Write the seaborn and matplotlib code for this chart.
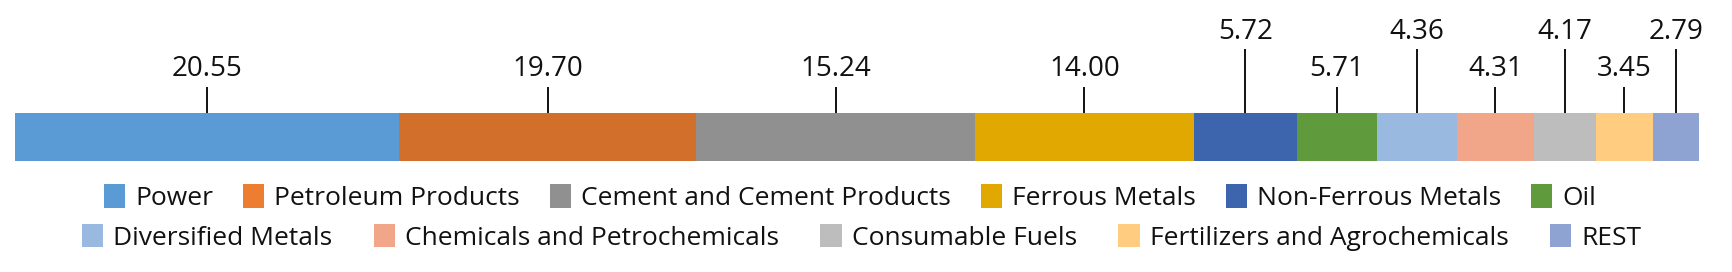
import matplotlib
matplotlib.use("Agg")
import numpy as np
import pandas as pd
import seaborn as sns
import matplotlib.pyplot as plt
from matplotlib.patches import Patch
import matplotlib.transforms as mtransforms

# ---------------- data ----------------
categories = ["Power", "Petroleum Products", "Cement and Cement Products", "Ferrous Metals",
              "Non-Ferrous Metals", "Oil", "Diversified Metals", "Chemicals and Petrochemicals",
              "Consumable Fuels", "Fertilizers and Agrochemicals", "REST"]
# segment widths as drawn in the bar (share of total, %)
segment_share = [22.84, 17.62, 16.57, 12.99, 6.13, 4.75, 4.73, 4.59, 3.68, 3.37, 2.73]
# printed callout values
label_values = [20.55, 19.70, 15.24, 14.00, 5.72, 5.71, 4.36, 4.31, 4.17, 3.45, 2.79]
label_raised = [False, False, False, False, True, False, True, False, True, False, True]
bar_colors = ["#5B9BD5", "#D16F2B", "#909090", "#E0A800", "#3D65AE", "#5F9B3C",
              "#99B9E0", "#F1A68A", "#BDBDBD", "#FFCC80", "#8FA3D3"]
legend_colors = ["#5B9BD5", "#ED7D31", "#909090", "#E0A800", "#3D65AE", "#5F9B3C",
                 "#99B9E0", "#F1A68A", "#BDBDBD", "#FFCC80", "#8FA3D3"]
legend_row_sizes = [6, 5]

# ---------------- style ----------------
sns.set_theme(style="white")
plt.rcParams["font.family"] = ["Open Sans", "DejaVu Sans"]
plt.rcParams["text.color"] = "#111111"

df = pd.DataFrame({"category": categories, "share": segment_share, "value": label_values})
df["right"] = df["share"].cumsum()
df["left"] = df["right"] - df["share"]
df["center"] = (df["left"] + df["right"]) / 2
df["row"] = "all"

W, H = 1733, 272
fig = plt.figure(figsize=(W / 100, H / 100), dpi=100)
ax = fig.add_axes([14.7 / W, 111 / H, 1684 / W, 48 / H])

# stacked bar: draw cumulative totals from the longest to the shortest
for i in reversed(range(len(df))):
    sns.barplot(data=df.iloc[[i]], x="right", y="row", orient="h", color=bar_colors[i],
                saturation=1, width=1.0, linewidth=0, errorbar=None, ax=ax)

ax.set_xlim(0, df["right"].iloc[-1])
ax.set_ylim(0.5, -0.5)
ax.set_axis_off()

trans = mtransforms.blended_transform_factory(ax.transData, ax.transAxes)
for idx, r in df.iterrows():
    raised = label_raised[idx]
    top = 2.333 if raised else 1.542
    base = 2.542 if raised else 1.771
    ax.plot([r["center"], r["center"]], [1.0, top], transform=trans, color="#111111",
            lw=1.4, clip_on=False, solid_capstyle="butt")
    ax.text(r["center"], base, f"{r['value']:.2f}", transform=trans, ha="center",
            va="baseline", fontsize=20, clip_on=False)

handles = [Patch(facecolor=c, edgecolor="none") for c in legend_colors]
n1 = legend_row_sizes[0]
common = dict(loc="center", frameon=False, handlelength=0.8, handleheight=1.0,
              handletextpad=0.4, borderpad=0, borderaxespad=0, prop={"size": 19})
fig.legend(handles[:n1], categories[:n1], ncol=n1, bbox_to_anchor=(0.4905, 0.273),
           columnspacing=1.12, **common)
fig.legend(handles[n1:], categories[n1:], ncol=len(categories) - n1,
           bbox_to_anchor=(0.4972, 0.128), columnspacing=1.56, **common)

fig.savefig("out.png", dpi=100, facecolor="white")
